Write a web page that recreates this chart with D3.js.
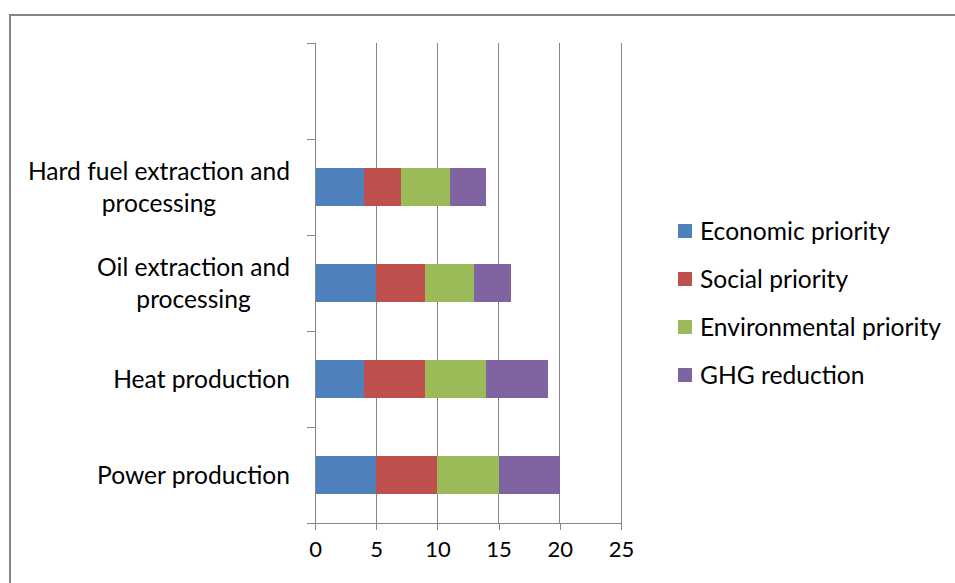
<!DOCTYPE html>
<html>
<head>
<meta charset="utf-8">
<script src="https://cdn.jsdelivr.net/npm/d3@7"></script>
<style>
  html, body { margin: 0; padding: 0; background: #fff; }
  svg { display: block; font-family: Lato, "Open Sans", sans-serif; }
</style>
</head>
<body>
<svg id="chart" width="955" height="583"></svg>
<script>
// Sectors, listed bottom to top; an empty top slot keeps the Excel-style spacing
const categories = ["Power production", "Heat production", "Oil extraction and processing", "Hard fuel extraction and processing", ""];
const seriesNames = ["Economic priority", "Social priority", "Environmental priority", "GHG reduction"];
const economic      = [5, 4, 5, 4];
const social        = [5, 5, 4, 3];
const environmental = [5, 5, 4, 4];
const ghg           = [5, 5, 3, 3];
const xTicks = [0, 5, 10, 15, 20, 25];
const colors = ["#4F81BD", "#C0504D", "#9BBB59", "#8064A2"];

const rows = categories.slice(0, 4).map((c, i) => ({
  category: c,
  "Economic priority": economic[i],
  "Social priority": social[i],
  "Environmental priority": environmental[i],
  "GHG reduction": ghg[i]
}));

const svg = d3.select("#chart");
const labelSize = 24.6;

// Outer chart frame (runs off the right and bottom edges)
svg.append("rect")
  .attr("x", 10).attr("y", 15)
  .attr("width", 960).attr("height", 600)
  .attr("fill", "none").attr("stroke", "#868686").attr("stroke-width", 2);

const plot = { left: 315, right: 621, top: 43, bottom: 523 };

const x = d3.scaleLinear().domain([0, 25]).range([plot.left, plot.right]);
const y = d3.scaleBand().domain(categories).range([plot.bottom, plot.top]).paddingInner(0.6).paddingOuter(0.3);
const yEdges = d3.scaleLinear().domain([0, categories.length]).range([plot.bottom, plot.top]);

// Vertical gridlines
svg.append("g").selectAll("line").data(xTicks.slice(1)).join("line")
  .attr("x1", d => x(d)).attr("x2", d => x(d))
  .attr("y1", plot.top).attr("y2", plot.bottom)
  .attr("stroke", "#868686").attr("stroke-width", 1).attr("shape-rendering", "crispEdges");

// Stacked bars
const stack = d3.stack().keys(seriesNames)(rows);
const bandH = y.bandwidth();
svg.append("g").selectAll("g").data(stack).join("g")
  .attr("fill", (d, i) => colors[i])
  .selectAll("rect").data(d => d).join("rect")
  .attr("x", d => x(d[0]))
  .attr("width", d => x(d[1]) - x(d[0]))
  .attr("y", d => y(d.data.category))
  .attr("height", bandH)
  .attr("shape-rendering", "crispEdges");

// Category axis
const yAxis = svg.append("g").attr("shape-rendering", "crispEdges");
yAxis.append("line")
  .attr("x1", plot.left).attr("x2", plot.left)
  .attr("y1", plot.top).attr("y2", plot.bottom)
  .attr("stroke", "#868686");
yAxis.selectAll("line.tick").data(d3.range(categories.length + 1)).join("line")
  .attr("class", "tick")
  .attr("x1", plot.left - 8).attr("x2", plot.left)
  .attr("y1", d => yEdges(d)).attr("y2", d => yEdges(d))
  .attr("stroke", "#868686");

// Category labels: a right-aligned block, wrapped lines centred within it
const wraps = {
  "Hard fuel extraction and processing": ["Hard fuel extraction and", "processing"],
  "Oil extraction and processing": ["Oil extraction and", "processing"]
};
const labelRight = plot.left - 25;
categories.forEach(c => {
  if (!c) return;
  const lines = wraps[c] || [c];
  const cy = y(c) + bandH / 2;
  const t = svg.append("text")
    .attr("text-anchor", "middle")
    .attr("font-size", labelSize).attr("fill", "#000");
  const lh = 32;
  const spans = lines.map((l, i) => t.append("tspan")
    .attr("y", cy + (i - (lines.length - 1) / 2) * lh)
    .attr("dy", "0.35em")
    .text(l));
  const maxW = d3.max(spans, s => s.node().getComputedTextLength());
  spans.forEach(s => s.attr("x", labelRight - maxW / 2));
});

// Value axis
const xAxis = d3.axisBottom(x).tickValues(xTicks).tickSize(7).tickPadding(11);
const gx = svg.append("g").attr("transform", `translate(0,${plot.bottom})`).call(xAxis);
gx.select(".domain").attr("stroke", "#868686").attr("shape-rendering", "crispEdges");
gx.selectAll(".tick line").attr("stroke", "#868686").attr("shape-rendering", "crispEdges");
gx.selectAll("text").attr("font-size", 22).attr("font-family", "Lato, 'Open Sans', sans-serif").attr("fill", "#000");

// Legend
const legend = svg.append("g").attr("transform", "translate(678,231)");
seriesNames.forEach((s, i) => {
  const g = legend.append("g").attr("transform", `translate(0,${i * 48})`);
  g.append("rect").attr("x", 0).attr("y", -7).attr("width", 14).attr("height", 14).attr("fill", colors[i]);
  g.append("text").attr("x", 22).attr("y", 0).attr("dy", "0.35em")
    .attr("font-size", labelSize).attr("fill", "#000").text(s);
});
</script>
</body>
</html>
